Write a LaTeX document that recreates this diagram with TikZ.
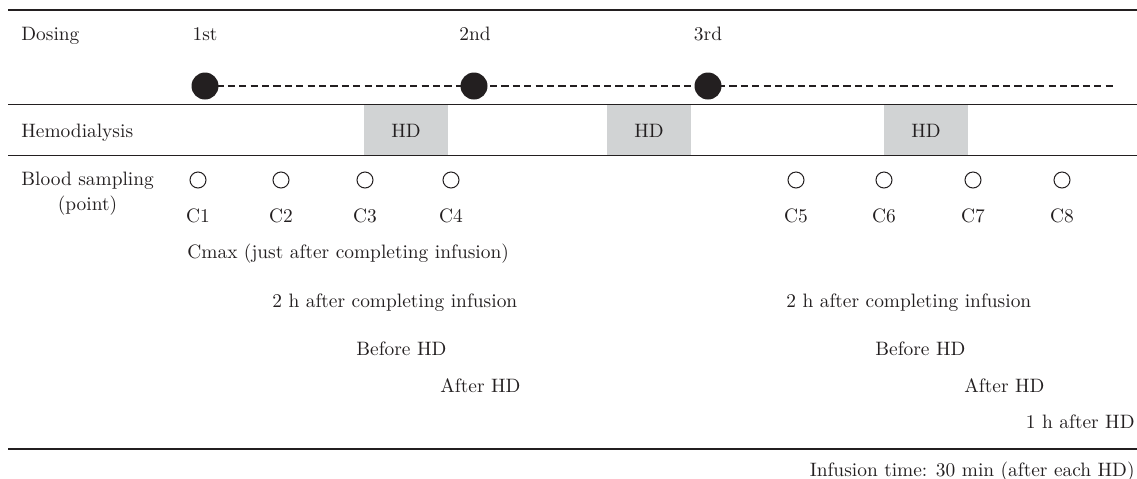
\documentclass[tikz,border=0pt]{standalone}
\usetikzlibrary{positioning}
\definecolor{ink}{HTML}{231F20}
\definecolor{hdgray}{HTML}{D1D3D4}
\begin{document}
\begin{tikzpicture}[x=0.5pt,y=-0.5pt,
  every node/.style={inner sep=0pt, text=ink, font=\fontsize{9.7}{11.6}\selectfont},
  lbl/.style={anchor=base west},
  rlbl/.style={anchor=base east},
  ctr/.style={anchor=base},
  rule/.style={draw=ink, line width=0.65pt},
  dosedot/.style={circle, fill=ink, minimum size=13.5pt},
  sampcirc/.style={circle, draw=ink, line width=0.5pt, minimum size=8pt},
  hdbox/.style={fill=hdgray, minimum width=42pt, minimum height=25pt},
  dashline/.style={draw=ink, line width=0.7pt, dash pattern=on 3.6pt off 2.1pt}]
\useasboundingbox (0,0) rectangle (1137,478);
% rules
\coordinate (r1a) at (8,10);    \coordinate (r1b) at (1137,10);
\coordinate (r2a) at (8,104.5); \coordinate (r2b) at (1137,104.5);
\coordinate (r3a) at (8,155.5); \coordinate (r3b) at (1137,155.5);
\coordinate (r4a) at (8,449);   \coordinate (r4b) at (1137,449);
% HD boxes
\node[hdbox] (hd1) at (406,130) {};
\node[hdbox] (hd2) at (649,130) {};
\node[hdbox] (hd3) at (926,130) {};
\node[ctr] (hdt1) at (406,137) {HD};
\node[ctr] (hdt2) at (649,137) {HD};
\node[ctr] (hdt3) at (926,137) {HD};
\draw[rule] (r1a) -- (r1b);
\draw[rule] (r2a) -- (r2b);
\draw[rule] (r3a) -- (r3b);
\draw[rule] (r4a) -- (r4b);
% row labels
\node[lbl] (dosing) at (21,40) {Dosing};
\node[lbl] (hemo) at (21,137) {Hemodialysis};
\node[lbl] (blood) at (21,185) {Blood sampling};
\node[ctr] (point) at (87.5,210) {(point)};
% dosing
\node[ctr] (first) at (205,40) {1st};
\node[ctr] (second) at (475,40) {2nd};
\node[ctr] (third) at (708,40) {3rd};
\coordinate (dstart) at (205,86);
\coordinate (dend) at (1115,86);
\draw[dashline] (dstart) -- (dend);
\node[dosedot] (d1) at (205,86) {};
\node[dosedot] (d2) at (474,86) {};
\node[dosedot] (d3) at (708,86) {};
% sampling points
\foreach \x/\n in {198/1,281/2,365/3,451/4,796/5,884/6,973/7,1062/8}{
  \node[sampcirc] (s\n) at (\x,180) {};
  \node[ctr] (c\n) at (\x,222) {C\n};
}
% descriptions
\node[lbl] (cmax) at (187,258) {Cmax (just after completing infusion)};
\node[lbl] (twoa) at (272,307) {2 h after completing infusion};
\node[lbl] (twob) at (786,307) {2 h after completing infusion};
\node[lbl] (befa) at (356,355) {Before HD};
\node[lbl] (befb) at (875,355) {Before HD};
\node[lbl] (afta) at (440,392) {After HD};
\node[lbl] (aftb) at (964,392) {After HD};
\node[rlbl] (oneh) at (1135,428) {1 h after HD};
\node[rlbl] (inf) at (1135,476) {Infusion time: 30 min (after each HD)};
\end{tikzpicture}
\end{document}
